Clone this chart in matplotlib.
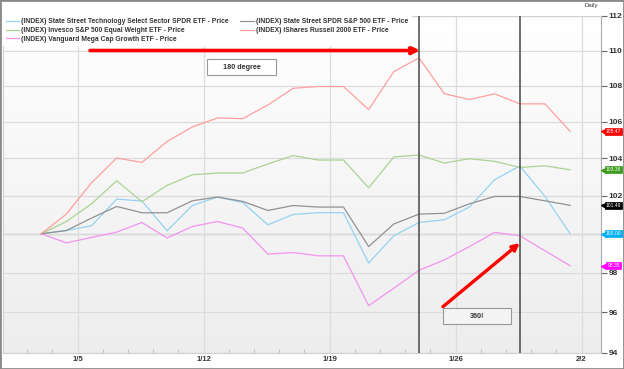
import matplotlib
matplotlib.use('Agg')
import matplotlib.pyplot as plt
import numpy as np
from matplotlib.colors import LinearSegmentedColormap
from matplotlib.patches import Rectangle
from matplotlib.ticker import FixedLocator, FuncFormatter

plt.rcParams['font.family'] = ['Liberation Sans', 'DejaVu Sans']

# values indexed to 100 at the first trading day
tech = [100, 100.17, 100.42, 101.82, 101.72, 100.16, 101.48, 101.93, 101.64, 100.47, 101.01,
        101.10, 101.10, 98.49, 99.90, 100.59, 100.73, 101.40, 102.85, 103.59, 101.96, 100.00]
equal_wt = [100, 100.64, 101.57, 102.80, 101.68, 102.55, 103.12, 103.21, 103.21, 103.70, 104.15,
            103.91, 103.91, 102.42, 104.08, 104.18, 103.75, 103.98, 103.84, 103.51, 103.60, 103.38]
mega_growth = [100, 99.53, 99.81, 100.09, 100.59, 99.78, 100.38, 100.64, 100.30, 98.95, 99.03,
               98.86, 98.86, 96.33, 97.21, 98.12, 98.65, 99.34, 100.07, 99.90, 99.12, 98.35]
spy = [100, 100.17, 100.82, 101.43, 101.10, 101.10, 101.73, 101.93, 101.70, 101.22, 101.48,
       101.40, 101.40, 99.34, 100.51, 101.03, 101.07, 101.57, 101.96, 101.96, 101.73, 101.49]
russell = [100, 101.03, 102.69, 104.02, 103.78, 104.92, 105.71, 106.21, 106.17, 106.93, 107.86,
           107.96, 107.96, 106.67, 108.80, 109.58, 107.56, 107.23, 107.55, 106.99, 106.99, 105.47]

names = ["(INDEX) State Street Technology Select Sector SPDR ETF - Price",
         "(INDEX) Invesco S&P 500 Equal Weight ETF - Price",
         "(INDEX) Vanguard Mega Cap Growth ETF - Price",
         "(INDEX) State Street SPDR S&P 500 ETF - Price",
         "(INDEX) iShares Russell 2000 ETF - Price"]
line_colors = ['#93d4f2', '#abd393', '#f293f0', '#929292', '#ff9f9f']
tag_colors = ['#00b0f0', '#3c9a1e', '#ff00ff', '#000000', '#ff0000']

date_labels = ['1/5', '1/12', '1/19', '1/26', '2/2']
y_ticks = [94, 96, 98, 100, 102, 104, 106, 108, 110, 112]
marked_days = [15, 19]

series = [tech, equal_wt, mega_growth, spy, russell]

fig = plt.figure(figsize=(6.24, 3.69), dpi=100)
ax = fig.add_axes([0.005, 0.044, 0.958, 0.913])
ax.set_yscale('log')

# grey gradient background
cmap = LinearSegmentedColormap.from_list('bg', ['#ffffff', '#ededed'])
ax.imshow(np.linspace(0, 1, 256).reshape(-1, 1), cmap=cmap, extent=[0, 1, 0, 1],
          transform=ax.transAxes, aspect='auto', zorder=0)

x = np.arange(len(tech))
for vals, name, col in zip(series, names, line_colors):
    ax.plot(x, vals, color=col, lw=0.9, label=name, zorder=3)

for d in marked_days:
    ax.axvline(d, color='#555555', lw=1.2, zorder=4)

ax.set_xlim(-1.51, 22.22)
ax.set_ylim(94, 112)

# axes ticks and grid
major_x = [1.45 + 5 * k for k in range(len(date_labels))]
ax.set_xticks(major_x)
ax.set_xticklabels(date_labels)
minor_x = [k - 0.55 for k in range(24) if (k - 0.55 + 0.001) % 5 > 0.01]
ax.xaxis.set_minor_locator(FixedLocator(minor_x))
ax.tick_params(axis='x', which='major', length=0, pad=2, labelsize=5.5, labelcolor='#333333')
ax.tick_params(axis='x', which='minor', direction='in', length=3, color='#bbbbbb')
for lab in ax.get_xticklabels():
    lab.set_fontweight('bold')

# the 100 label sits under the last-value tag, as in the original
ax.yaxis.tick_right()
ax.yaxis.set_major_locator(FixedLocator(y_ticks))
ax.yaxis.set_minor_locator(FixedLocator([]))
ax.yaxis.set_major_formatter(FuncFormatter(lambda v, p: '' if round(v) == 100 else '%d' % round(v)))
ax.tick_params(axis='y', which='major', length=4, width=0.8, color='#666666', pad=1.5,
               labelsize=6, labelcolor='#333333')
for lab in ax.get_yticklabels():
    lab.set_fontweight('bold')

ax.grid(True, which='major', color='#dcdcdc', lw=0.9, zorder=1)
ax.axhline(100, color='#c4c4c4', lw=1.0, zorder=1)
for side in ['left', 'top', 'bottom']:
    ax.spines[side].set_color('#d0d0d0')
ax.spines['right'].set_color('#aaaaaa')

# value tags on the right edge
for vals, col in zip(series, tag_colors):
    last = vals[-1]
    ax.plot([1.004], [last], marker='<', ms=3.6, color=col, transform=ax.get_yaxis_transform(),
            clip_on=False, zorder=6)
    ax.annotate('%.2f' % last, xy=(1.0, last), xycoords=('axes fraction', 'data'),
                xytext=(9.2, 0), textcoords='offset points', ha='center', va='center',
                fontsize=3.6, color='white', zorder=7, annotation_clip=False,
                bbox=dict(boxstyle='square,pad=0.2', fc=col, ec=col, lw=0.5))

# annotations
ax.annotate('', xy=(15.04, 110), xytext=(1.94, 110),
            arrowprops=dict(arrowstyle='-|>', color='#ff0000', lw=2.6, mutation_scale=11,
                            shrinkA=0, shrinkB=0), zorder=5)
ax.annotate('', xy=(19.0, 99.52), xytext=(15.95, 96.28),
            arrowprops=dict(arrowstyle='-|>', color='#ff0000', lw=2.4, mutation_scale=10,
                            shrinkA=0, shrinkB=0), zorder=5)

ax.add_patch(Rectangle((6.59, 108.63), 2.74, 109.49 - 108.63, fc='white', ec='#999999',
                       lw=0.8, zorder=5))
ax.text(7.96, 109.05, '180 degree', ha='center', va='center', fontsize=5.2,
        fontweight='bold', color='#333333', zorder=6)
ax.add_patch(Rectangle((15.94, 95.42), 2.70, 96.20 - 95.42, fc='#f4f4f4', ec='#999999',
                       lw=0.8, zorder=5))
ax.text(17.29, 95.81, '360!', ha='center', va='center', fontsize=5.2,
        fontweight='bold', color='#333333', zorder=6)

leg = ax.legend(loc='upper left', bbox_to_anchor=(0.0, 1.0), ncol=2, frameon=True,
                fancybox=False, framealpha=1, facecolor='white', edgecolor='white',
                borderpad=0.35, borderaxespad=0, handlelength=2.0, handletextpad=0.35,
                columnspacing=1.6, labelspacing=0.25,
                prop={'size': 4.9, 'weight': 'bold'})
leg.set_zorder(8)
for t in leg.get_texts():
    t.set_color('#333333')

fig.text(0.948, 0.985, 'Daily', ha='center', va='center', fontsize=4.3, color='#333333')
fig.patches.append(Rectangle((0, 0), 1, 1, transform=fig.transFigure, fill=False,
                             ec='#8a8a8a', lw=2))

fig.savefig('out.png', dpi=100)
